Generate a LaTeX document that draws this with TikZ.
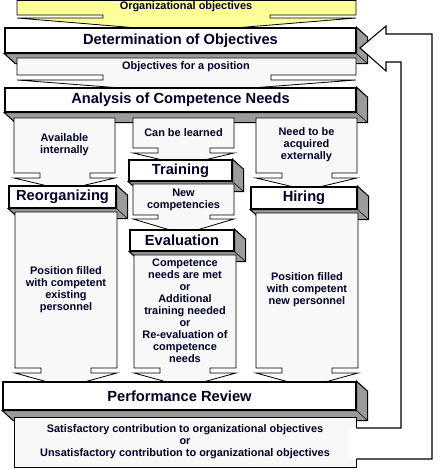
\documentclass[tikz,border=0pt]{standalone}
\usepackage{fontspec}
\setmainfont{Liberation Sans}
\definecolor{ink}{RGB}{0,0,40}
\definecolor{pale}{RGB}{255,255,153}
\definecolor{paper}{RGB}{248,248,248}
\definecolor{side}{RGB}{155,155,155}

\begin{document}
\begin{tikzpicture}[x=0.75pt,y=-0.75pt,
    cube/.style={draw,line width=1pt,fill=white,inner sep=0pt,text=ink,
      font=\bfseries\fontsize{11}{13}\selectfont},
    face/.style={draw,line width=.8pt,fill=side},
    callout/.style={draw,line width=.6pt,fill=paper},
    note/.style={text=ink,align=center,font=\bfseries\fontsize{8.2}{9}\selectfont}]

      \useasboundingbox (0,0) rectangle (439,470);

      % top row
      \draw[callout,fill=pale] (17,0.5) -- (356,0.5) -- (356,15) -- (270,15) -- (270,18) -- (356,18)
        -- (186,32) -- (17,18) -- (103,18) -- (103,15) -- (17,15) -- cycle;
      \node[note] (orgobj) at (186,7) {Organizational objectives};

      \node[cube,minimum width=351*.75pt,minimum height=25*.75pt] (det) at (180.5,40.5) {Determination of Objectives};
      \draw[face] (det.north east) -- ++(11,10) |- ([shift={(11,10)}]det.south west) -- (det.south west) -- (det.south east) -- cycle;
      \draw (det.south east) -- ++(11,10);

      \draw[callout] (17,58) -- (356,58) -- (356,75) -- (271,75) -- (271,80) -- (356,80)
        -- (186,93) -- (17,80) -- (103,80) -- (103,75) -- (17,75) -- cycle;
      \node[note] (posobj) at (186,66.5) {Objectives for a position};

      \node[cube,minimum width=351*.75pt,minimum height=24*.75pt] (ana) at (180.5,100) {Analysis of Competence Needs};
      \draw[face] (ana.north east) -- ++(11,10) |- ([shift={(11,10)}]ana.south west) -- (ana.south west) -- (ana.south east) -- cycle;
      \draw (ana.south east) -- ++(11,10);

      % three ways
      \draw[callout] (14,118) -- (115,118) -- (115,173) -- (90,173) -- (90,178) -- (115,178)
        -- (64.5,190) -- (14,178) -- (40,178) -- (40,173) -- (14,173) -- cycle;
      \node[note] (avail) at (64.5,145) {Available\\internally};

      \draw[callout] (133,118) -- (234,118) -- (234,148) -- (210,148) -- (210,153) -- (234,153)
        -- (183.5,165) -- (133,153) -- (158,153) -- (158,148) -- (133,148) -- cycle;
      \node[note] (learn) at (183.5,133) {Can be learned};

      \draw[callout] (256,118) -- (357,118) -- (357,173) -- (332,173) -- (332,178) -- (357,178)
        -- (306.5,190) -- (256,178) -- (282,178) -- (282,173) -- (256,173) -- cycle;
      \node[note] (extern) at (306.5,145) {Need to be\\acquired\\externally};

      \node[cube,minimum width=103*.75pt,minimum height=21*.75pt] (train) at (180.5,170.5) {Training};
      \draw[face] (train.north east) -- ++(11,10) |- ([shift={(11,10)}]train.south west) -- (train.south west) -- (train.south east) -- cycle;
      \draw (train.south east) -- ++(11,10);

      \draw[callout] (133,184) -- (234,184) -- (234,215) -- (210,215) -- (210,219) -- (234,219)
        -- (183.5,234) -- (133,219) -- (158,219) -- (158,215) -- (133,215) -- cycle;
      \node[note] (newcomp) at (183.5,200) {New\\competencies};

      \node[cube,minimum width=107*.75pt,minimum height=22*.75pt] (reorg) at (62.5,197) {Reorganizing};
      \node[cube,minimum width=106*.75pt,minimum height=22*.75pt] (hire) at (304,198) {Hiring};
      \node[cube,minimum width=104*.75pt,minimum height=21*.75pt] (eval) at (182,240.5) {Evaluation};
      \foreach \b in {reorg,hire,eval} {
        \draw[face] (\b.north east) -- ++(11,10) |- ([shift={(11,10)}]\b.south west) -- (\b.south west) -- (\b.south east) -- cycle;
        \draw (\b.south east) -- ++(11,10);
      }

      % results of each way
      \draw[callout] (15,212) -- (117,212) -- (117,368) -- (91,368) -- (91,373) -- (117,373)
        -- (66,387) -- (15,373) -- (41,373) -- (41,368) -- (15,368) -- cycle;
      \node[note] (filled) at (66,290) {Position filled\\with competent\\existing\\personnel};

      \draw[callout] (134,255) -- (236,255) -- (236,368) -- (210,368) -- (210,373) -- (236,373)
        -- (185,387) -- (134,373) -- (160,373) -- (160,368) -- (134,368) -- cycle;
      \node[note] (outcome) at (185,311) {Competence\\needs are met\\or\\Additional\\training needed\\or\\Re-evaluation of\\competence\\needs};

      \draw[callout] (256,213) -- (358,213) -- (358,368) -- (332,368) -- (332,373) -- (358,373)
        -- (307,387) -- (256,373) -- (282,373) -- (282,368) -- (256,368) -- cycle;
      \node[note] (newstaff) at (307,290) {Position filled\\with competent\\new personnel};

      % review
      \node[cube,minimum width=353*.75pt,minimum height=28*.75pt] (perf) at (179.5,396) {Performance Review};
      \draw[face] (perf.north east) -- ++(11,10) |- ([shift={(11,10)}]perf.south west) -- (perf.south west) -- (perf.south east) -- cycle;
      \draw (perf.south east) -- ++(11,10);

      \node[callout,note,inner sep=0pt,minimum width=342*.75pt,minimum height=50*.75pt] (result) at (185,442)
        {Satisfactory contribution to organizational objectives\\or\\Unsatisfactory contribution to organizational objectives};

      % back to the objectives
      \fill[white] (349,428) -- (401,428) -- (401,62) -- (386,62) -- (386,71) -- (360,48) -- (386,26)
        -- (386,34) -- (432,34) -- (432,459) -- (349,459) -- cycle;
      \draw[line width=.8pt] (result.east |- 0,428) -- (401,428) -- (401,62) -- (386,62) -- (386,71) -- (360,48)
        -- (386,26) -- (386,34) -- (432,34) -- (432,459) -- (result.east |- 0,459);

    \end{tikzpicture}
\end{document}
